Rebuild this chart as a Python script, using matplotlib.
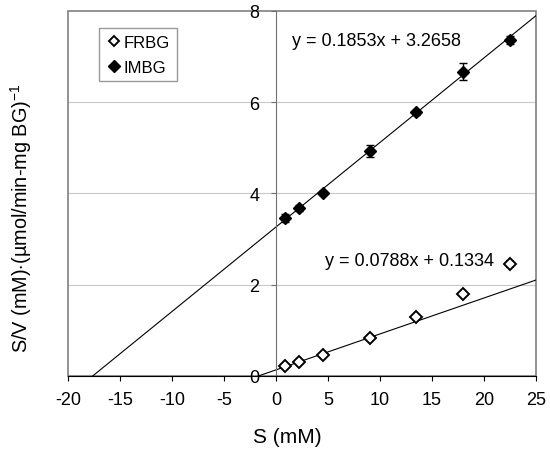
import numpy as np
import matplotlib
matplotlib.use("Agg")
import matplotlib.pyplot as plt
from matplotlib.patches import Rectangle
from matplotlib.lines import Line2D

plt.rcParams['font.family'] = ['Liberation Sans', 'DejaVu Sans']
plt.rcParams['mathtext.fontset'] = 'custom'
plt.rcParams['mathtext.rm'] = 'Liberation Sans'
plt.rcParams['mathtext.it'] = 'Liberation Sans:italic'
plt.rcParams['axes.unicode_minus'] = False

# substrate concentrations (mM)
s = np.array([0.9, 2.25, 4.5, 9.0, 13.5, 18.0, 22.5])
# S/V values
frbg = np.array([0.21, 0.30, 0.47, 0.84, 1.29, 1.79, 2.45])
frbg_err = np.array([0.02, 0.02, 0.02, 0.03, 0.03, 0.03, 0.06])
imbg = np.array([3.46, 3.68, 4.01, 4.94, 5.78, 6.67, 7.37])
imbg_err = np.array([0.08, 0.06, 0.05, 0.13, 0.05, 0.18, 0.09])

# linear fits from the chart
frbg_m, frbg_b = 0.0788, 0.1334
imbg_m, imbg_b = 0.1853, 3.2658

fig = plt.figure(figsize=(5.5, 4.52), dpi=100)
ax = fig.add_axes([0.1236, 0.166, 0.851, 0.8075])
ax.set_xlim(-20, 25)
ax.set_ylim(0, 8)

for yv in [2, 4, 6]:
    ax.axhline(yv, color='#c8c8c8', lw=0.8, zorder=0)

# trend lines, drawn from y=0 to right edge
x1 = np.array([-imbg_b / imbg_m, 25])
ax.plot(x1, imbg_m * x1 + imbg_b, color='black', lw=0.8, zorder=2)
x2 = np.array([-frbg_b / frbg_m, 25])
ax.plot(x2, frbg_m * x2 + frbg_b, color='black', lw=0.8, zorder=2)

ax.errorbar(s, frbg, yerr=frbg_err, fmt='D', mfc='white', mec='black',
            mew=1.4, ms=6, ecolor='black', elinewidth=1, capsize=3, zorder=3)
ax.errorbar(s, imbg, yerr=imbg_err, fmt='D', mfc='black', mec='black',
            ms=6.5, ecolor='black', elinewidth=1, capsize=3, zorder=3)

ax.spines['left'].set_position(('data', 0))
ax.spines['left'].set_color('#707070')
ax.spines['right'].set_visible(False)
ax.spines['top'].set_visible(False)
ax.spines['bottom'].set_color('black')
ax.add_patch(Rectangle((0, 0), 1, 1, transform=ax.transAxes, fill=False,
                       edgecolor='#808080', lw=1.2, zorder=1, clip_on=False))

ax.set_xticks(np.arange(-20, 26, 5))
ax.set_yticks([0, 2, 4, 6, 8])
ax.tick_params(axis='both', labelsize=13, direction='out', length=3.5, width=0.8)
ax.tick_params(axis='y', pad=8.5, color='#707070')
ax.tick_params(axis='x', pad=7)

ax.set_xlabel('S (mM)', fontsize=15)
ax.xaxis.set_label_coords(0.468, -0.139)
ax.xaxis.label.set_va('top')
ax.set_ylabel(r'S/V (mM)$\cdot$(µmol/min-mg BG)$^{-1}$', fontsize=14.3)
ax.yaxis.set_label_coords(-0.073, 0.434)

ax.text(1.5, 7.35, 'y = 0.1853x + 3.2658', fontsize=13, va='center')
ax.text(4.7, 2.52, 'y = 0.0788x + 0.1334', fontsize=13, va='center')

handles = [Line2D([], [], ls='none', marker='D', mfc='white', mec='black', mew=1.4, ms=5.5),
           Line2D([], [], ls='none', marker='D', mfc='black', mec='black', ms=6.5)]
leg = ax.legend(handles, ['FRBG', 'IMBG'], loc='upper left',
                bbox_to_anchor=(0.066, 0.953), fontsize=12,
                frameon=True, fancybox=False, edgecolor='#808080',
                handlelength=1.0, handletextpad=0.1, borderpad=0.4,
                labelspacing=0.6, borderaxespad=0)
leg.get_frame().set_linewidth(1.0)

fig.savefig('out.png', dpi=100)
